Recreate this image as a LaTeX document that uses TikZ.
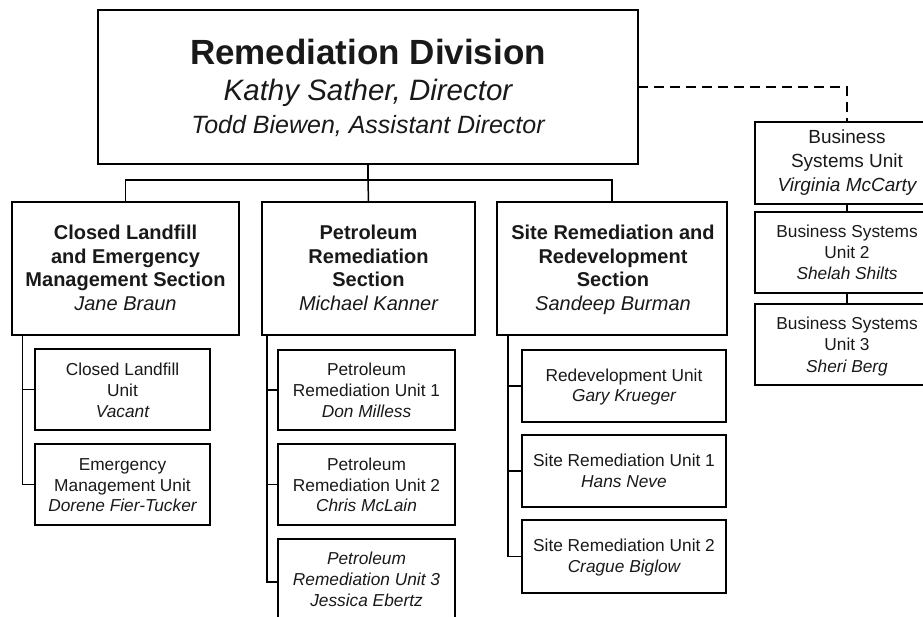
\documentclass[tikz,border=0pt]{standalone}
\usepackage{fontspec}
\setmainfont{Liberation Sans}
\begin{document}
\begin{tikzpicture}[x=1pt,y=-1pt,
  bigbox/.style={draw=black, line width=2pt, inner sep=0pt, outer sep=0pt},
  unitbox/.style={draw=black, line width=1.5pt, inner sep=0pt, outer sep=0pt},
  link/.style={draw=black, line width=1.5pt},
  dlink/.style={draw=black, line width=1.5pt, dash pattern=on 10pt off 6pt},
  txt/.style={anchor=base, inner sep=0pt, text=black!90},
  ttl/.style={txt, font=\fontsize{35}{40}\selectfont\bfseries},
  dir/.style={txt, font=\fontsize{29.5}{34}\selectfont\itshape},
  adir/.style={txt, font=\fontsize{25}{30}\selectfont\itshape},
  sect/.style={txt, font=\fontsize{20}{24}\selectfont\bfseries},
  sectn/.style={txt, font=\fontsize{20}{24}\selectfont\itshape},
  bsut/.style={txt, font=\fontsize{19}{23}\selectfont},
  bsun/.style={txt, font=\fontsize{19}{23}\selectfont\itshape},
  unt/.style={txt, font=\fontsize{17.3}{21}\selectfont},
  untn/.style={txt, font=\fontsize{17.3}{21}\selectfont\itshape}
]
\useasboundingbox (0,0) rectangle (923,617);

% ---- boxes ----
\node[bigbox, minimum width=540, minimum height=154] (div) at (368,87) {};
\node[bigbox, minimum width=227, minimum height=133] (sec1) at (125.5,268.5) {};
\node[bigbox, minimum width=213, minimum height=133] (sec2) at (368.5,268.5) {};
\node[bigbox, minimum width=230, minimum height=133] (sec3) at (612,268.5) {};
\node[bigbox, minimum width=184, minimum height=82] (bsu1) at (847,163) {};
\node[unitbox, minimum width=184, minimum height=81] (bsu2) at (847,252.5) {};
\node[unitbox, minimum width=184, minimum height=81] (bsu3) at (847,344.5) {};

\node[unitbox, minimum width=175, minimum height=81] (u11) at (122.5,389.5) {};
\node[unitbox, minimum width=175, minimum height=81] (u12) at (122.5,484.5) {};
\node[unitbox, minimum width=177, minimum height=80] (u21) at (366.5,390) {};
\node[unitbox, minimum width=177, minimum height=81] (u22) at (366.5,484.5) {};
\node[unitbox, minimum width=177, minimum height=86] (u23) at (366.5,582) {};
\node[unitbox, minimum width=204, minimum height=72] (u31) at (624,386) {};
\node[unitbox, minimum width=204, minimum height=72] (u32) at (624,471) {};
\node[unitbox, minimum width=204, minimum height=73] (u33) at (624,556.5) {};

% ---- connectors ----
\coordinate (bus) at (368,180);
\draw[link] (div.south) -- (bus);
\draw[link] (sec1.north) |- (bus) -| (sec3.north);
\draw[link] (bus) -- (sec2.north);
\draw[dlink] (div.east) -| (bsu1.north);
\draw[link] (bsu1.south) -- (bsu2.north);
\draw[link] (bsu2.south) -- (bsu3.north);

\coordinate (l1) at ([xshift=10.7pt]sec1.south west);
\draw[link] (l1) |- (u12.west);
\draw[link] (u11.west) -- (u11.west -| l1);
\coordinate (l2) at ([xshift=5pt]sec2.south west);
\draw[link] (l2) |- (u23.west);
\draw[link] (u21.west) -- (u21.west -| l2);
\draw[link] (u22.west) -- (u22.west -| l2);
\coordinate (l3) at ([xshift=11pt]sec3.south west);
\draw[link] (l3) |- (u33.west);
\draw[link] (u31.west) -- (u31.west -| l3);
\draw[link] (u32.west) -- (u32.west -| l3);

% ---- texts ----
\node[ttl] (div-a) at (368,65) {Remediation Division};
\node[dir] (div-b) at (368,101) {Kathy Sather, Director};
\node[adir] (div-c) at (368,134) {Todd Biewen, Assistant Director};

\node[sect] (sec1-a) at (125.5,240) {Closed Landfill};
\node[sect] (sec1-b) at (125.5,263.5) {and Emergency};
\node[sect] (sec1-c) at (125.5,287) {Management Section};
\node[sectn] (sec1-d) at (125.5,310.5) {Jane Braun};

\node[sect] (sec2-a) at (368.5,240) {Petroleum};
\node[sect] (sec2-b) at (368.5,263.5) {Remediation};
\node[sect] (sec2-c) at (368.5,287) {Section};
\node[sectn] (sec2-d) at (368.5,310.5) {Michael Kanner};

\node[sect] (sec3-a) at (613,240) {Site Remediation and};
\node[sect] (sec3-b) at (613,263.5) {Redevelopment};
\node[sect] (sec3-c) at (613,287) {Section};
\node[sectn] (sec3-d) at (613,310.5) {Sandeep Burman};

\node[bsut] (bsu1-a) at (847,144) {Business};
\node[bsut] (bsu1-b) at (847,168) {Systems Unit};
\node[bsun] (bsu1-c) at (847,192) {Virginia McCarty};

\node[unt] (bsu2-a) at (847,238) {Business Systems};
\node[unt] (bsu2-b) at (847,259) {Unit 2};
\node[untn] (bsu2-c) at (847,280) {Shelah Shilts};

\node[unt] (bsu3-a) at (847,330) {Business Systems};
\node[unt] (bsu3-b) at (847,351) {Unit 3};
\node[untn] (bsu3-c) at (847,372) {Sheri Berg};

\node[unt] (u11-a) at (122.5,375) {Closed Landfill};
\node[unt] (u11-b) at (122.5,396) {Unit};
\node[untn] (u11-c) at (122.5,417) {Vacant};

\node[unt] (u12-a) at (122.5,470) {Emergency};
\node[unt] (u12-b) at (122.5,491) {Management Unit};
\node[untn] (u12-c) at (122.5,511) {Dorene Fier-Tucker};

\node[unt] (u21-a) at (366.5,375) {Petroleum};
\node[unt] (u21-b) at (366.5,396) {Remediation Unit 1};
\node[untn] (u21-c) at (366.5,417) {Don Milless};

\node[unt] (u22-a) at (366.5,470) {Petroleum};
\node[unt] (u22-b) at (366.5,491) {Remediation Unit 2};
\node[untn] (u22-c) at (366.5,511) {Chris McLain};

\node[untn] (u23-a) at (366.5,564) {Petroleum};
\node[untn] (u23-b) at (366.5,585) {Remediation Unit 3};
\node[untn] (u23-c) at (366.5,606) {Jessica Ebertz};

\node[unt] (u31-a) at (624,381) {Redevelopment Unit};
\node[untn] (u31-b) at (624,401) {Gary Krueger};

\node[unt] (u32-a) at (624,466) {Site Remediation Unit 1};
\node[untn] (u32-b) at (624,487) {Hans Neve};

\node[unt] (u33-a) at (624,551) {Site Remediation Unit 2};
\node[untn] (u33-b) at (624,572) {Crague Biglow};
\end{tikzpicture}
\end{document}
